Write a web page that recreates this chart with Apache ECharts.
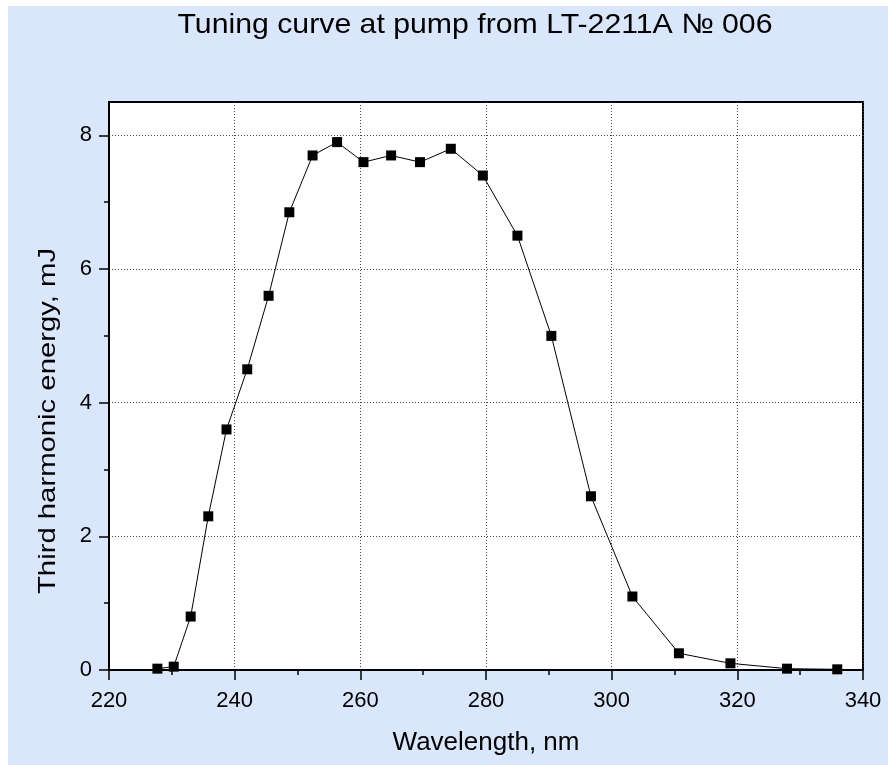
<!DOCTYPE html>
<html>
<head>
<meta charset="utf-8">
<script src="https://cdn.jsdelivr.net/npm/echarts@6/dist/echarts.min.js"></script>
<style>
  html, body { margin: 0; padding: 0; background: #fff; }
  #wrap { position: absolute; left: 8px; top: 6px; width: 880px; height: 759px; background: #dae6fb; }
  #chart { position: absolute; left: 0; top: 0; width: 888px; height: 765px; }
</style>
</head>
<body>
<div id="wrap"></div>
<div id="chart"></div>
<script>
// wavelength, nm
const wavelength = [227.7, 230.3, 233.0, 235.8, 238.7, 242.0, 245.4, 248.7, 252.4, 256.3,
  260.5, 264.9, 269.5, 274.4, 279.5, 285.0, 290.4, 296.7, 303.3, 310.7, 318.9, 327.9, 335.9];
// third harmonic energy, mJ
const energy = [0.02, 0.05, 0.8, 2.3, 3.6, 4.5, 5.6, 6.85, 7.7, 7.9,
  7.6, 7.7, 7.6, 7.8, 7.4, 6.5, 5.0, 2.6, 1.1, 0.25, 0.1, 0.02, 0.01];

const yMajor = [0, 2, 4, 6, 8];
const yMinor = [1, 3, 5, 7];

const FONT = "Liberation Sans, Arial, sans-serif";
const chart = echarts.init(document.getElementById("chart"));

chart.setOption({
  backgroundColor: "transparent",
  animation: false,
  graphic: [{
    // title, slightly stretched like the original
    type: "text", x: 475, y: 25, scaleX: 1.08,
    style: { text: "Tuning curve at pump from LT-2211A № 006", font: "28px " + FONT, fill: "#000",
      textAlign: "center", textVerticalAlign: "middle" }
  }, {
    // y axis title
    type: "text", x: 48, y: 421, rotation: Math.PI / 2, scaleX: 1.22,
    style: { text: "Third harmonic energy, mJ", font: "24px " + FONT, fill: "#000",
      textAlign: "center", textVerticalAlign: "middle" }
  }],
  grid: { left: 109, right: 25, top: 102, bottom: 95, show: true, backgroundColor: "#fff", borderColor: "#000", borderWidth: 2 },
  xAxis: {
    type: "value", min: 220, max: 340, interval: 20,
    name: "Wavelength, nm", nameLocation: "middle", nameGap: 60,
    nameTextStyle: { fontFamily: FONT, fontSize: 26, color: "#000" },
    axisLine: { show: true, lineStyle: { color: "#000", width: 2 } },
    axisTick: { show: true, length: 10, lineStyle: { color: "#000", width: 1.5 } },
    minorTick: { show: true, splitNumber: 2, length: 5, lineStyle: { color: "#000", width: 1.5 } },
    axisLabel: { fontFamily: FONT, fontSize: 22, color: "#000", margin: 20 },
    splitLine: { show: true, lineStyle: { color: "#444", width: 1, type: [1, 2] } }
  },
  yAxis: [{
    type: "value", min: 0, max: 8.5, interval: 2,
    axisLine: { show: true, lineStyle: { color: "#000", width: 2 } },
    axisTick: { show: true, length: 10, customValues: yMajor, lineStyle: { color: "#000", width: 1.5 } },
    axisLabel: { fontFamily: FONT, fontSize: 22, color: "#000", margin: 17, customValues: yMajor },
    splitLine: { show: true, lineStyle: { color: "#444", width: 1, type: [1, 2] } }
  }, {
    type: "value", min: 0, max: 8.5, position: "left",
    axisLine: { show: false },
    axisTick: { show: true, length: 5, customValues: yMinor, lineStyle: { color: "#000", width: 1.5 } },
    axisLabel: { show: false },
    splitLine: { show: false }
  }],
  series: [{
    type: "line",
    data: wavelength.map((w, i) => [w, energy[i]]),
    symbol: "rect", symbolSize: 10,
    lineStyle: { color: "#000", width: 1 },
    itemStyle: { color: "#000" },
    clip: false
  }]
});
</script>
</body>
</html>
